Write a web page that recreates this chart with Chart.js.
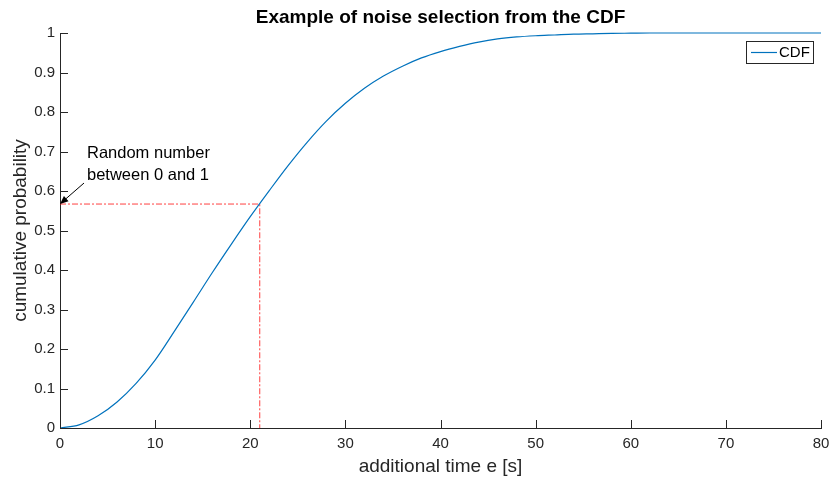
<!DOCTYPE html>
<html>
<head>
<meta charset="utf-8">
<script src="https://cdn.jsdelivr.net/npm/chart.js@4"></script>
<style>
  html, body { margin: 0; padding: 0; background: #fff; }
  #wrap { width: 830px; height: 482px; }
</style>
</head>
<body>
<div id="wrap"><canvas id="myChart" width="830" height="482"></canvas></div>
<script>
// values
var xValues = [0, 2, 4, 6, 8, 10, 12, 14, 16, 18, 20, 22, 24, 26, 28, 30, 32, 34, 36, 38, 40,
               42, 44, 46, 48, 50, 52, 54, 56, 58, 60, 62, 64, 66, 68, 70, 72, 74, 76, 78, 80];
var cdfValues = [0, 0.008, 0.031, 0.066, 0.113, 0.172, 0.244, 0.318, 0.393, 0.465, 0.535,
                 0.601, 0.665, 0.724, 0.777, 0.822, 0.860, 0.891, 0.916, 0.937, 0.953,
                 0.966, 0.977, 0.985, 0.990, 0.993, 0.995, 0.997, 0.998, 0.999, 0.9995,
                 1, 1, 1, 1, 1, 1, 1, 1, 1, 1];
var xTicks = [0, 10, 20, 30, 40, 50, 60, 70, 80];
var yTicks = [0, 0.1, 0.2, 0.3, 0.4, 0.5, 0.6, 0.7, 0.8, 0.9, 1];
var pickX = 21;
var pickY = 0.567;

var FONT = "'Liberation Sans', Arial, sans-serif";
var INK = '#262626';

var cdfPoints = xValues.map(function (x, i) { return {x: x, y: cdfValues[i]}; });
var pickPoints = [{x: 0, y: pickY}, {x: pickX, y: pickY}, {x: pickX, y: 0}];

// matlab-ish extras: inward ticks, title, legend box, arrow note
var extras = {
    id: 'extras',
    afterDatasetsDraw: function (chart) {
        var ctx = chart.ctx, a = chart.chartArea;
        var xs = chart.scales.x, ys = chart.scales.y;
        ctx.save();
        ctx.strokeStyle = INK;
        ctx.lineWidth = 1;
        ctx.beginPath();
        xTicks.forEach(function (v) {
            var px = Math.round(xs.getPixelForValue(v)) + 0.5;
            ctx.moveTo(px, a.bottom);
            ctx.lineTo(px, a.bottom - 8);
        });
        yTicks.forEach(function (v) {
            var py = Math.round(ys.getPixelForValue(v)) + 0.5;
            ctx.moveTo(a.left, py);
            ctx.lineTo(a.left + 8, py);
        });
        ctx.stroke();

        // title
        ctx.fillStyle = '#000';
        ctx.font = 'bold 19px ' + FONT;
        ctx.textAlign = 'center';
        ctx.textBaseline = 'alphabetic';
        ctx.fillText('Example of noise selection from the CDF', (a.left + a.right) / 2, 23);

        // legend
        var bw = 67, bh = 22;
        var bx = Math.round(a.right) - 8 - bw, by = Math.round(a.top) + 8;
        ctx.fillStyle = '#fff';
        ctx.fillRect(bx, by, bw, bh);
        ctx.strokeStyle = INK;
        ctx.lineWidth = 1;
        ctx.strokeRect(bx + 0.5, by + 0.5, bw, bh);
        ctx.strokeStyle = chart.data.datasets[0].borderColor;
        ctx.lineWidth = 1.2;
        ctx.beginPath();
        ctx.moveTo(bx + 5, by + bh / 2 + 0.5);
        ctx.lineTo(bx + 31, by + bh / 2 + 0.5);
        ctx.stroke();
        ctx.fillStyle = '#000';
        ctx.font = '15px ' + FONT;
        ctx.textAlign = 'left';
        ctx.textBaseline = 'middle';
        ctx.fillText(chart.data.datasets[0].label, bx + 33, by + bh / 2 + 1);

        // annotation arrow
        var tipX = xs.getPixelForValue(0), tipY = ys.getPixelForValue(pickY);
        var tailX = tipX + 24, tailY = tipY - 21;
        ctx.strokeStyle = '#000';
        ctx.fillStyle = '#000';
        ctx.lineWidth = 1;
        ctx.beginPath();
        ctx.moveTo(tailX, tailY);
        ctx.lineTo(tipX + 1, tipY - 1);
        ctx.stroke();
        var ang = Math.atan2(tipY - tailY, tipX - tailX);
        ctx.beginPath();
        ctx.moveTo(tipX, tipY);
        ctx.lineTo(tipX - 9 * Math.cos(ang - 0.4), tipY - 9 * Math.sin(ang - 0.4));
        ctx.lineTo(tipX - 9 * Math.cos(ang + 0.4), tipY - 9 * Math.sin(ang + 0.4));
        ctx.closePath();
        ctx.fill();
        ctx.font = '16.5px ' + FONT;
        ctx.textAlign = 'left';
        ctx.textBaseline = 'alphabetic';
        ctx.fillText('Random number', tipX + 27, tipY - 46);
        ctx.fillText('between 0 and 1', tipX + 27, tipY - 24);
        ctx.restore();
    }
};

var ctx = document.getElementById('myChart').getContext('2d');
var myChart = new Chart(ctx, {
    type: 'line',
    data: {
        datasets: [{
            label: 'CDF',
            data: cdfPoints,
            borderColor: '#0072BD',
            borderWidth: 1.2,
            pointRadius: 0,
            cubicInterpolationMode: 'monotone',
            clip: false
        }, {
            label: 'pick',
            data: pickPoints,
            borderColor: 'rgba(255, 0, 0, 0.75)',
            borderWidth: 1,
            borderDash: [6, 2, 2, 2],
            pointRadius: 0,
            tension: 0
        }]
    },
    options: {
        responsive: false,
        animation: false,
        layout: {
            padding: {top: 33, right: 9, bottom: 0, left: 0}
        },
        plugins: {
            legend: {display: false},
            tooltip: {enabled: false},
            title: {display: false}
        },
        scales: {
            x: {
                type: 'linear',
                min: 0,
                max: 80,
                afterFit: function (s) {
                    s.height = 54;
                    s.paddingLeft = 0;
                    s.paddingRight = 0;
                },
                afterBuildTicks: function (s) { s.ticks = xTicks.map(function (v) { return {value: v}; }); },
                grid: {display: false, drawTicks: false},
                border: {display: true, color: INK, width: 1},
                ticks: {
                    color: INK,
                    padding: 7,
                    maxRotation: 0,
                    font: {family: FONT, size: 15},
                    callback: function (v) { return String(v); }
                },
                title: {
                    display: true,
                    text: 'additional time e [s]',
                    color: INK,
                    font: {family: FONT, size: 19},
                    padding: {top: 0, bottom: 4}
                }
            },
            y: {
                min: 0,
                max: 1,
                afterFit: function (s) {
                    s.width = 60;
                    s.paddingTop = 0;
                    s.paddingBottom = 0;
                },
                afterBuildTicks: function (s) { s.ticks = yTicks.map(function (v) { return {value: v}; }); },
                grid: {display: false, drawTicks: false},
                border: {display: true, color: INK, width: 1},
                ticks: {
                    color: INK,
                    padding: 5,
                    font: {family: FONT, size: 15},
                    callback: function (v) { return String(Math.round(v * 10) / 10); }
                },
                title: {
                    display: true,
                    text: 'cumulative probability',
                    color: INK,
                    font: {family: FONT, size: 19},
                    padding: {top: 9, bottom: 0}
                }
            }
        }
    },
    plugins: [extras]
});
</script>
</body>
</html>
